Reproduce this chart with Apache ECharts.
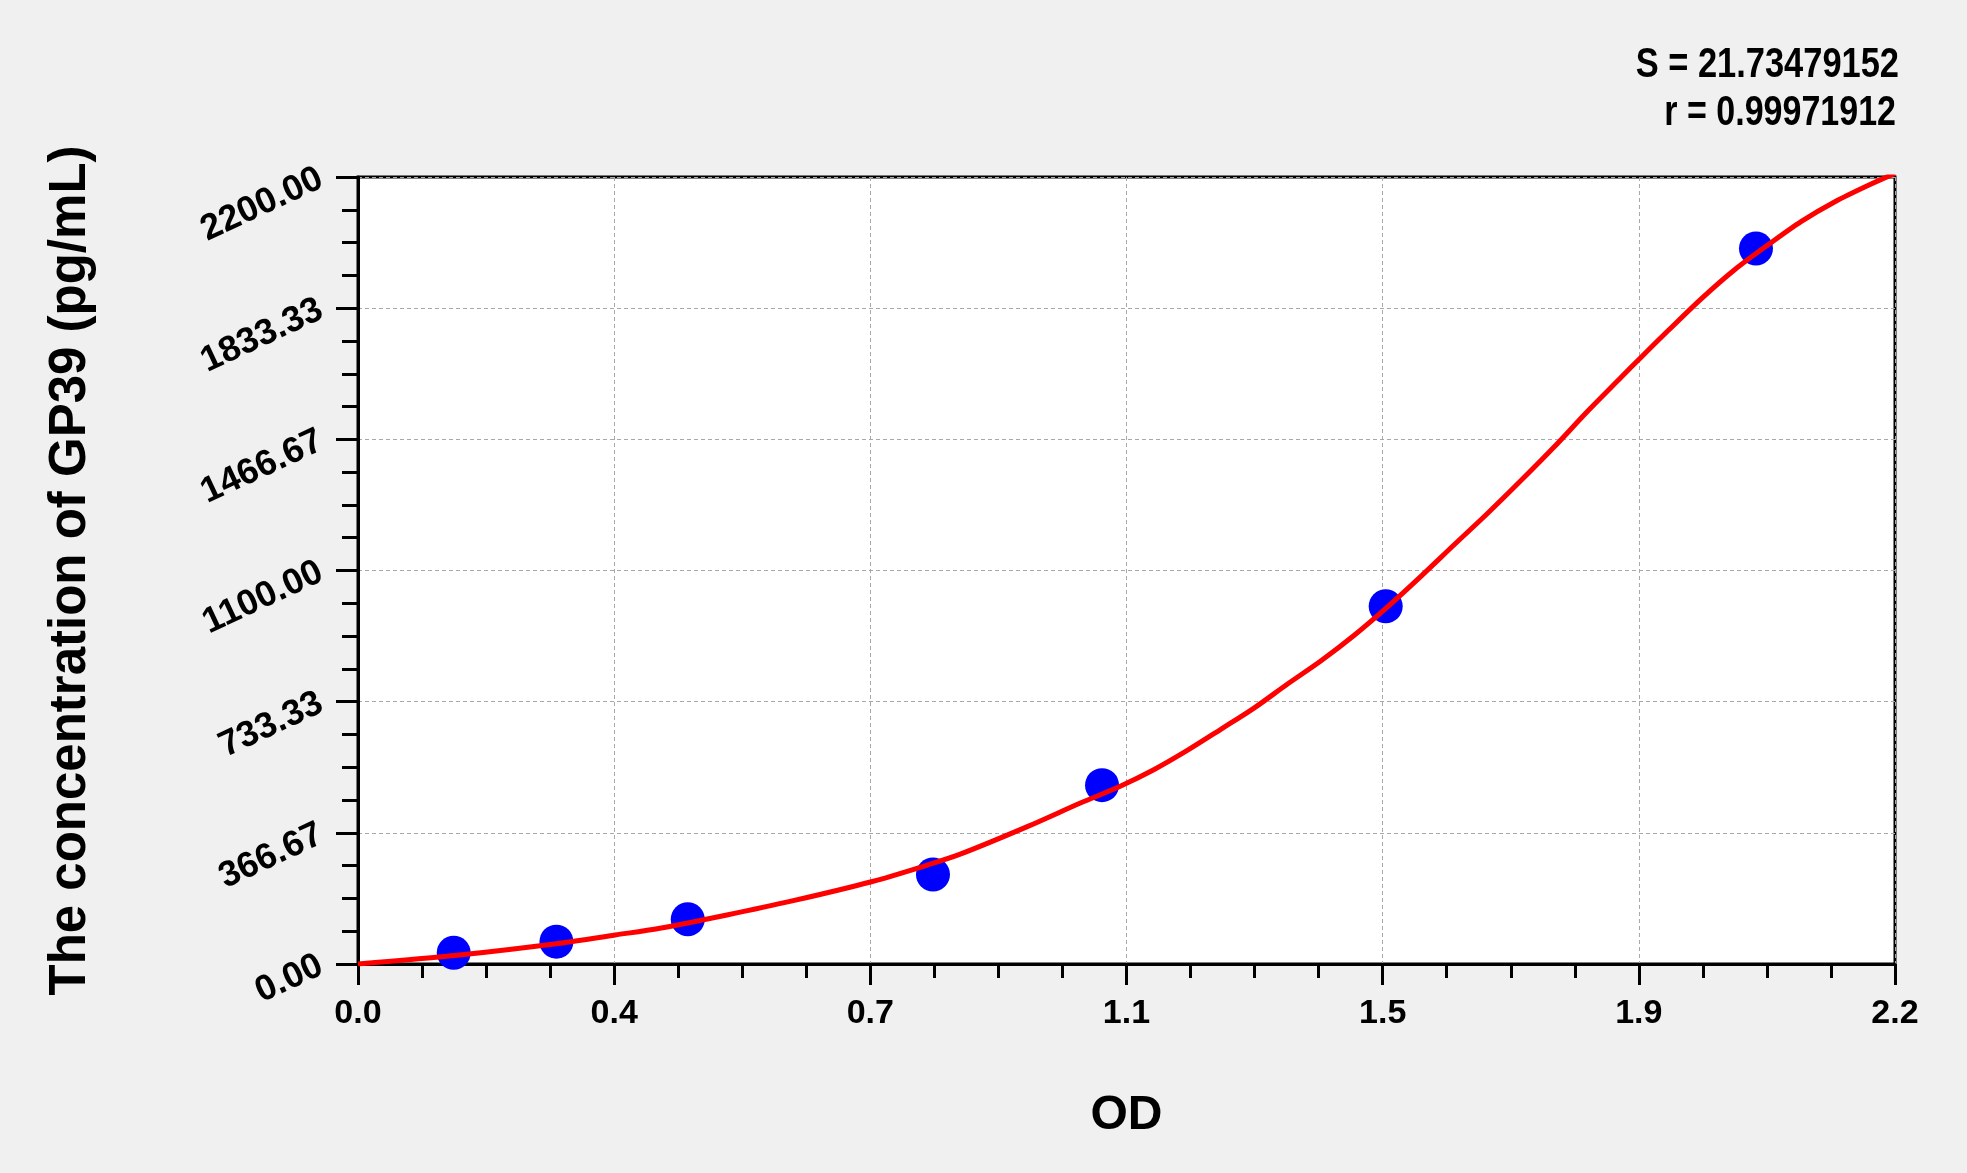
<!DOCTYPE html>
<html>
<head>
<meta charset="utf-8">
<script src="https://cdn.jsdelivr.net/npm/echarts@6/dist/echarts.min.js"></script>
<style>
html,body{margin:0;padding:0;background:#f0f0f0;}
#chart{width:1967px;height:1173px;}
</style>
</head>
<body>
<div id="chart"></div>
<script>
// Standard points (OD vs concentration)
const odValues = [0.137, 0.284, 0.472, 0.823, 1.065, 1.471, 2.001];
const concValues = [31.25, 62.5, 125, 250, 500, 1000, 2000];

// Fitted curve
const curveOD = [0, 0.145, 0.289, 0.368, 0.432, 0.528, 0.623, 0.735, 0.814, 0.862, 0.958, 1.034, 1.091, 1.139, 1.187, 1.235, 1.283, 1.330, 1.378, 1.426, 1.474, 1.521, 1.569, 1.617, 1.665, 1.712, 1.760, 1.808, 1.837, 1.875, 1.923, 1.970, 2.018, 2.066, 2.114, 2.162, 2.2];
const curveConc = [0, 25, 58, 81, 100, 137, 177, 230, 276, 307, 384, 450, 497, 543, 597, 656, 716, 782, 847, 919, 999, 1083, 1172, 1260, 1352, 1445, 1545, 1640, 1697, 1770, 1860, 1940, 2010, 2076, 2131, 2177, 2210];

// Axis settings and tick labels
const xMin = 0, xMax = 2.2, xStep = 2.2 / 6;
const yMin = 0, yMax = 2200, yStep = 2200 / 6;
const xTickLabels = ['0.0', '0.4', '0.7', '1.1', '1.5', '1.9', '2.2'];
const yTickLabels = ['0.00', '366.67', '733.33', '1100.00', '1466.67', '1833.33', '2200.00'];

const statS = 'S = 21.73479152';
const statR = 'r = 0.99971912';
const xTitle = 'OD';
const yTitle = 'The concentration of GP39 (pg/mL)';

const chart = echarts.init(document.getElementById('chart'), null, {renderer: 'canvas'});
const font = "'Liberation Sans', Arial, sans-serif";

chart.setOption({
  backgroundColor: '#f0f0f0',
  animation: false,
  grid: {
    left: 358, right: 72, top: 177, bottom: 209,
    show: true, backgroundColor: '#ffffff', borderColor: '#000000', borderWidth: 3,
    containLabel: false
  },
  graphic: [
    { type: 'text', x: 1899, y: 65, scaleX: 0.82,
      style: { text: statS, font: "bold 42px " + font, fill: '#000',
        align: 'right', verticalAlign: 'middle', textAlign: 'right', textVerticalAlign: 'middle' } },
    { type: 'text', x: 1896, y: 113, scaleX: 0.81,
      style: { text: statR, font: "bold 42px " + font, fill: '#000',
        align: 'right', verticalAlign: 'middle', textAlign: 'right', textVerticalAlign: 'middle' } }
  ],
  xAxis: {
    type: 'value', min: xMin, max: xMax, interval: xStep,
    name: xTitle, nameLocation: 'middle', nameGap: 128,
    nameTextStyle: { fontFamily: font, fontWeight: 'bold', fontSize: 48, color: '#000' },
    axisLine: { show: true, lineStyle: { color: '#000', width: 3 } },
    axisTick: { show: true, inside: false, length: 21, lineStyle: { color: '#000', width: 3 } },
    minorTick: { show: true, splitNumber: 4, length: 14, lineStyle: { color: '#000', width: 3 } },
    axisLabel: { margin: 33, fontFamily: font, fontWeight: 'bold', fontSize: 34, color: '#000',
      formatter: v => xTickLabels[Math.round(v / xStep)] },
    splitLine: { show: true, lineStyle: { color: '#a8a8a8', width: 1, type: [4, 3] } }
  },
  yAxis: {
    type: 'value', min: yMin, max: yMax, interval: yStep,
    name: yTitle, nameLocation: 'middle', nameGap: 262, nameRotate: 90,
    nameTextStyle: { fontFamily: font, fontWeight: 'bold', fontSize: 51, color: '#000' },
    axisLine: { show: true, lineStyle: { color: '#000', width: 3 } },
    axisTick: { show: true, inside: false, length: 22, lineStyle: { color: '#000', width: 3 } },
    minorTick: { show: true, splitNumber: 4, length: 16, lineStyle: { color: '#000', width: 3 } },
    axisLabel: { margin: 37, rotate: 25, fontFamily: font, fontWeight: 'bold', fontSize: 36, color: '#000',
      formatter: v => yTickLabels[Math.round(v / yStep)] },
    splitLine: { show: true, lineStyle: { color: '#a8a8a8', width: 1, type: [4, 3] } }
  },
  series: [
    {
      name: 'Standards', type: 'scatter', z: 2,
      data: odValues.map((x, i) => [x, concValues[i]]),
      symbol: 'circle', symbolSize: 34,
      itemStyle: { color: '#0000ff', opacity: 1 }
    },
    {
      name: 'Fit', type: 'line', z: 3, smooth: 0.3, symbol: 'none', clip: true,
      data: curveOD.map((x, i) => [x, curveConc[i]]),
      lineStyle: { color: '#ff0000', width: 5 }
    }
  ]
});
</script>
</body>
</html>
